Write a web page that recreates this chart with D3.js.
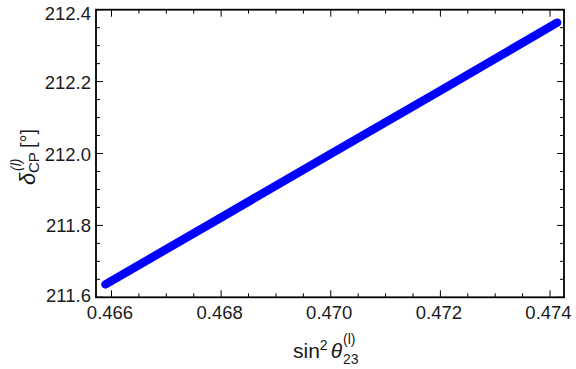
<!DOCTYPE html>
<html><head><meta charset="utf-8">
<script src="https://cdn.jsdelivr.net/npm/d3@7"></script>
<style>body{margin:0;background:#fff}svg{display:block}text{font-family:"Liberation Sans",Arial,sans-serif;fill:#1a1a1a}</style>
</head><body><svg id="c" width="576" height="369"></svg>
<script>
// data
const sin2theta23 = [0.46589, 0.4680, 0.4700, 0.4720, 0.47413];
const deltaCP = [211.636, 211.822, 211.999, 212.175, 212.364];
const xTicks = [0.466, 0.468, 0.470, 0.472, 0.474];
const yTicks = [211.6, 211.8, 212.0, 212.2, 212.4];

const svg = d3.select("#c");
const L = 96, R = 564, T = 9.7, B = 297.3;
const x = d3.scaleLinear().domain([0.465717, 0.474255]).range([L, R]);
const y = d3.scaleLinear().domain([211.6, 212.4]).range([B, T]);

const minorX = d3.range(0.4660, 0.47424, 0.0005);
const minorY = d3.range(211.6, 212.4101, 0.05);

const g = svg.append("g");
function isMajor(v, step){ return Math.abs(v/step - Math.round(v/step)) < 1e-6; }
minorX.forEach(v => {
  const len = isMajor(v, 0.002) ? 7 : 4;
  const px = x(v);
  g.append("line").attr("x1",px).attr("x2",px).attr("y1",B).attr("y2",B-len).attr("stroke","#000").attr("stroke-width",1);
  g.append("line").attr("x1",px).attr("x2",px).attr("y1",T).attr("y2",T+len).attr("stroke","#000").attr("stroke-width",1);
});
minorY.forEach(v => {
  const len = isMajor(v, 0.2) ? 7 : 4;
  const py = y(v);
  g.append("line").attr("x1",L).attr("x2",L+len).attr("y1",py).attr("y2",py).attr("stroke","#000").attr("stroke-width",1);
  g.append("line").attr("x1",R).attr("x2",R-len).attr("y1",py).attr("y2",py).attr("stroke","#000").attr("stroke-width",1);
});

// data line
const line = d3.line().x((d,i)=>x(sin2theta23[i])).y((d,i)=>y(deltaCP[i]));
g.append("path").datum(deltaCP).attr("d", line).attr("fill","none")
  .attr("stroke","#0000ff").attr("stroke-width",8.5).attr("stroke-linecap","round");

// frame
g.append("rect").attr("x",L).attr("y",T).attr("width",R-L).attr("height",B-T)
  .attr("fill","none").attr("stroke","#000").attr("stroke-width",1.8);

// tick labels
xTicks.forEach(v => {
  g.append("text").attr("x",x(v)-1.5).attr("y",319).attr("text-anchor","middle")
    .attr("font-size",18.5).text(v.toFixed(3));
});
yTicks.forEach(v => {
  const by = Math.min(Math.max(y(v) + 7, 19.5), 301.5);
  g.append("text").attr("x",91).attr("y",by).attr("text-anchor","end")
    .attr("font-size",18.5).text(v.toFixed(1));
});

// x title
const xt = g.append("text").attr("x",293).attr("y",358).attr("font-size",21);
xt.append("tspan").text("sin");
xt.append("tspan").attr("font-size",14).attr("dy",-8).text("2");
xt.append("tspan").attr("dy",8).attr("dx",3).attr("font-style","italic").text("θ");
const xpos = xt.node().getComputedTextLength();
g.append("text").attr("x",293+xpos+4).attr("y",344).attr("font-size",14).text("(l)");
g.append("text").attr("x",293+xpos+4).attr("y",364).attr("font-size",14).text("23");

// y title (rotated)
const yg = g.append("g").attr("transform","translate(35,185) rotate(-90)");
yg.append("text").attr("x",0).attr("y",0).attr("font-size",22).attr("font-style","italic").text("δ");
yg.append("text").attr("x",12).attr("y",4).attr("font-size",15).text("CP");
yg.append("text").attr("x",14).attr("y",-14).attr("font-size",14).attr("font-style","italic").text("(l)");
yg.append("text").attr("x",37).attr("y",0).attr("font-size",20).text("[°]");
</script></body></html>
